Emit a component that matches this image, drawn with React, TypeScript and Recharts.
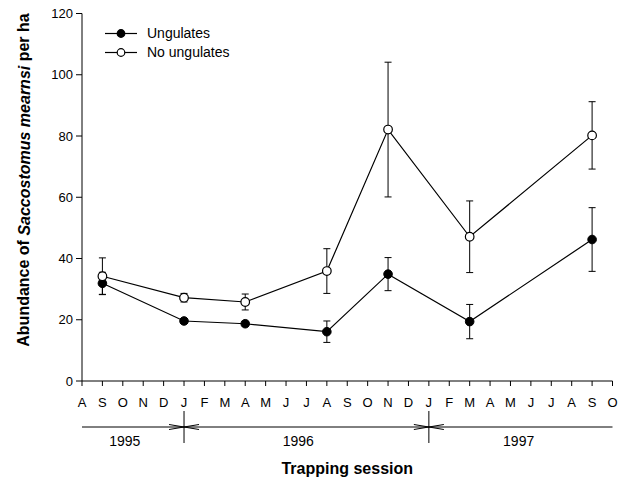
import { ErrorBar, Legend, Line, LineChart, XAxis, YAxis } from "recharts";

const FONT = '"Liberation Sans", Arial, sans-serif';

// month letters from Aug 1995 to Oct 1997
const MONTHS = [
  "A", "S", "O", "N", "D",
  "J", "F", "M", "A", "M", "J", "J", "A", "S", "O", "N", "D",
  "J", "F", "M", "A", "M", "J", "J", "A", "S", "O",
];
const MONTH_TICKS = MONTHS.map((_, i) => i);

// trapping sessions, as month index
const SESSIONS = [1, 5, 8, 12, 15, 19, 25];
const UNGULATES = [31.9, 19.6, 18.7, 16.1, 34.9, 19.4, 46.2];
const UNGULATES_ERR = [3.6, 0.8, 0.8, 3.5, 5.4, 5.6, 10.4];
const NO_UNGULATES = [34.2, 27.2, 25.8, 35.9, 82.1, 47.1, 80.2];
const NO_UNGULATES_ERR = [6, 1.4, 2.6, 7.3, 22, 11.7, 11];

const SERIES_NAMES = ["Ungulates", "No ungulates"];

const YEARS = ["1995", "1996", "1997"];
const YEAR_CENTERS = [2.1, 10.6, 21.4];
const YEAR_BREAKS = [5, 17];

const Y_TICKS = [0, 20, 40, 60, 80, 100, 120];
const Y_MINOR_TICKS = Array.from({ length: 31 }, (_, i) => i * 4);

const rows = SESSIONS.map((month, i) => ({
  month,
  ung: UNGULATES[i],
  ungErr: UNGULATES_ERR[i],
  noUng: NO_UNGULATES[i],
  noUngErr: NO_UNGULATES_ERR[i],
}));

function YLabel() {
  const cx = 23.5;
  const cy = 180;
  return (
    <text
      x={cx}
      y={cy}
      transform={`rotate(-90 ${cx} ${cy})`}
      textAnchor="middle"
      dominantBaseline="central"
      fontFamily={FONT}
      fontSize={16}
      fontWeight="bold"
      fill="#000"
    >
      {"Abundance of "}
      <tspan fontStyle="italic">Saccostomus mearnsi</tspan>
      {" per ha"}
    </text>
  );
}

function XLabel({ viewBox }: any) {
  const x = viewBox.x + viewBox.width / 2;
  const y = viewBox.y + viewBox.height - 4;
  return (
    <text x={x} y={y} textAnchor="middle" fontFamily={FONT} fontSize={16} fontWeight="bold" fill="#000">
      Trapping session
    </text>
  );
}

function YearTick({ x, y, payload }: any) {
  const v = payload.value;
  if (YEAR_BREAKS.includes(v)) {
    return (
      <g stroke="#000" fill="none" strokeWidth={1}>
        <line x1={x} y1={y - 16} x2={x} y2={y + 16} />
        <polyline points={`${x - 15},${y - 2.5} ${x},${y} ${x - 15},${y + 2.5}`} />
        <polyline points={`${x + 15},${y - 2.5} ${x},${y} ${x + 15},${y + 2.5}`} />
      </g>
    );
  }
  const idx = YEAR_CENTERS.indexOf(v);
  return (
    <text x={x} y={y + 19} textAnchor="middle" fontFamily={FONT} fontSize={14} fill="#000">
      {YEARS[idx]}
    </text>
  );
}

function LegendContent() {
  return (
    <div style={{ fontFamily: FONT, fontSize: 14, color: "#000" }}>
      {SERIES_NAMES.map((name, i) => (
        <div key={name} style={{ display: "flex", alignItems: "center", height: 19 }}>
          <svg width={32} height={19}>
            <line x1={0} y1={9.5} x2={32} y2={9.5} stroke="#000" strokeWidth={1.2} />
            <circle cx={16} cy={9.5} r={3.8} fill={i === 0 ? "#000" : "#fff"} stroke="#000" strokeWidth={1.2} />
          </svg>
          <span style={{ marginLeft: 10 }}>{name}</span>
        </div>
      ))}
    </div>
  );
}

export default function App() {
  const tickStyle = { fontFamily: FONT, fontSize: 13, fill: "#000" };
  return (
    <div style={{ position: "absolute", left: 0, top: 0, background: "#fff" }}>
      <LineChart width={628} height={478} data={rows} margin={{ top: 13.5, right: 15.5, bottom: 0, left: 0 }}>
        <XAxis
          dataKey="month"
          type="number"
          domain={[0, 26]}
          ticks={MONTH_TICKS}
          interval={0}
          tickFormatter={(v) => MONTHS[v]}
          tick={tickStyle}
          tickSize={5}
          tickMargin={12}
          height={46}
          stroke="#000"
          allowDataOverflow
        />
        <XAxis
          xAxisId="year"
          dataKey="month"
          type="number"
          domain={[0, 26]}
          ticks={[...YEAR_CENTERS, ...YEAR_BREAKS]}
          interval={0}
          tick={<YearTick />}
          tickLine={false}
          tickSize={0}
          tickMargin={0}
          height={51}
          stroke="#000"
          allowDataOverflow
          label={<XLabel />}
        />
        <XAxis
          xAxisId="top"
          dataKey="month"
          orientation="top"
          type="number"
          domain={[0, 26]}
          height={0}
          tick={false}
          tickLine={false}
          stroke="#000"
          allowDataOverflow
        />
        <YAxis
          type="number"
          domain={[0, 120]}
          ticks={Y_TICKS}
          interval={0}
          tick={tickStyle}
          tickSize={6}
          tickMargin={3}
          width={82}
          stroke="#000"
          allowDataOverflow
          label={<YLabel />}
        />
        <YAxis
          yAxisId="minor"
          dataKey="noUng"
          type="number"
          domain={[0, 120]}
          ticks={Y_MINOR_TICKS}
          interval={0}
          mirror
          tick={false}
          tickSize={4}
          axisLine={false}
          stroke="#000"
          allowDataOverflow
        />
        <YAxis
          yAxisId="right"
          dataKey="noUng"
          orientation="right"
          type="number"
          domain={[0, 120]}
          width={0}
          tick={false}
          tickLine={false}
          stroke="#000"
          allowDataOverflow
        />
        <Legend
          layout="vertical"
          align="center"
          verticalAlign="middle"
          wrapperStyle={{ left: 105, top: 23.8, width: 160 }}
          content={<LegendContent />}
        />
        <Line
          dataKey="ung"
          name={SERIES_NAMES[0]}
          stroke="#000"
          strokeWidth={1.2}
          dot={{ r: 4.3, fill: "#000", stroke: "#000", strokeWidth: 1 }}
          isAnimationActive={false}
        >
          <ErrorBar dataKey="ungErr" direction="y" width={3.5} stroke="#000" strokeWidth={1} isAnimationActive={false} />
        </Line>
        <Line
          dataKey="noUng"
          name={SERIES_NAMES[1]}
          stroke="#000"
          strokeWidth={1.2}
          dot={{ r: 4.3, fill: "#fff", stroke: "#000", strokeWidth: 1.2 }}
          isAnimationActive={false}
        >
          <ErrorBar dataKey="noUngErr" direction="y" width={3.5} stroke="#000" strokeWidth={1} isAnimationActive={false} />
        </Line>
      </LineChart>
    </div>
  );
}
